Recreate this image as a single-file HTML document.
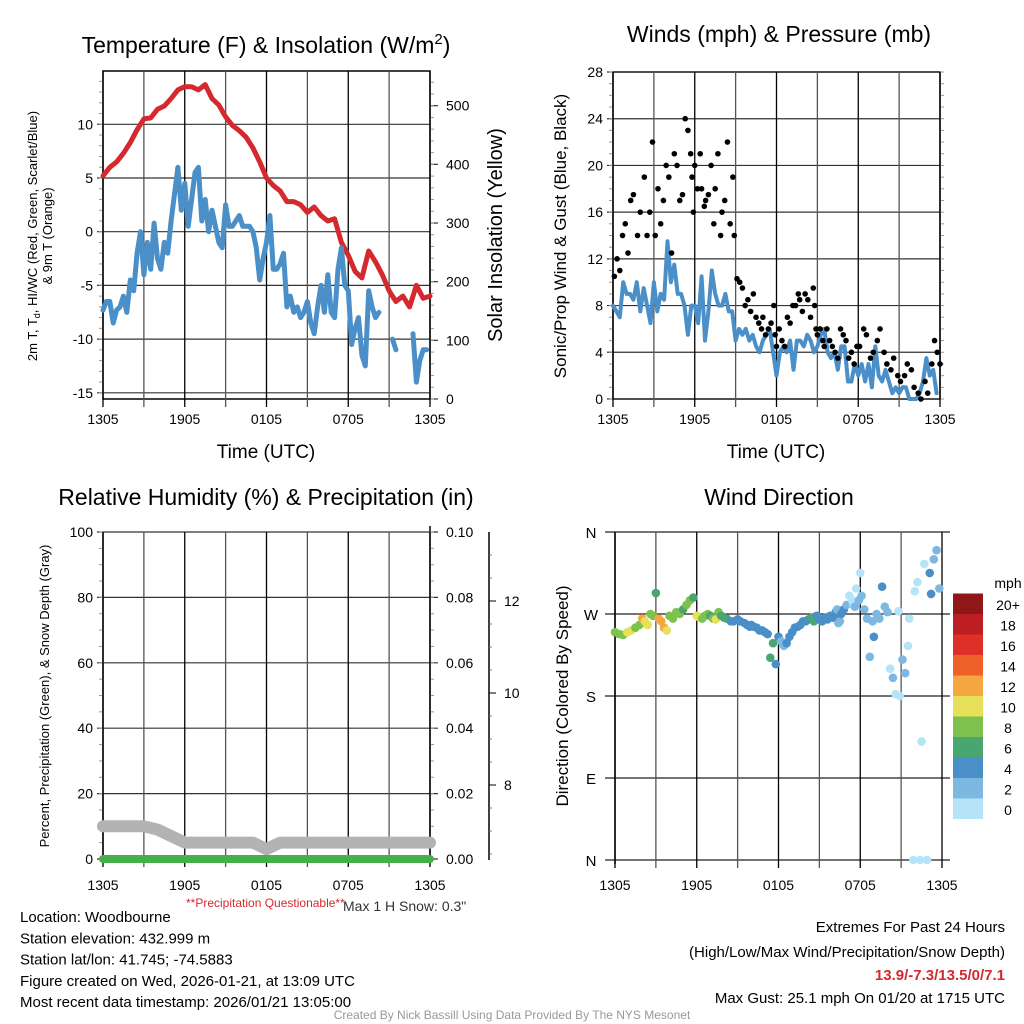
<!DOCTYPE html>
<html><head><meta charset="utf-8">
<style>
html,body{margin:0;padding:0;background:#fff;}
svg{display:block;font-family:"Liberation Sans",Arial,sans-serif;}
</style></head>
<body>
<svg id="chart" width="1024" height="1024" viewBox="0 0 1024 1024" xmlns="http://www.w3.org/2000/svg">
<rect width="1024" height="1024" fill="#fff"/>
<g id="g"></g>
</svg>
<script>
// ---------- DATA ----------
const timeLabels = ["1305","1905","0105","0705","1305"];
const tempF = [5.2,6,6.5,7.3,8.3,9.5,10.5,10.6,11.4,11.7,12.4,13.2,13.5,13.5,13.2,13.7,12.4,11.8,10.7,9.9,9.4,8.8,7.8,6.5,5.0,4.3,3.8,2.8,2.8,2.5,1.8,2.3,1.5,1.0,1.2,-1.0,-2.2,-3.7,-4.3,-1.8,-2.8,-4.0,-5.5,-6.5,-6.0,-7.0,-5.0,-6.2,-6.0];
const dewF = [-7.3,-6.5,-6.5,-8.5,-7.3,-7.0,-6.0,-7.5,-4.5,-5.5,-2.0,0.0,-4.0,-1.0,-3.5,0.8,-2.5,-3.5,-1.0,-2.0,1.0,3.5,6.0,2.0,4.5,0.5,3.0,5.5,6.0,1.0,3.0,0.0,2.0,0.5,-1.0,-1.5,2.5,0.5,0.5,1.0,1.5,0.5,0.5,0.5,0.0,-1.5,-4.5,-2.5,-1.0,1.5,-3.5,-3.5,-3.0,-2.0,-7.0,-6.0,-7.5,-7.0,-8.0,-7.5,-6.5,-8.5,-9.5,-7.0,-5.0,-7.5,-4.0,-7.5,-8.0,-3.5,-1.5,-5.0,-5.5,-10.5,-9.0,-8.0,-11.5,-12.5,-5.5,-7.0,-8.0,-7.5,null,null,null,-10.0,-11.0,null,null,null,null,-9.5,-14.0,-12.0,-11.0,-11.0,null];
const windMph = [8,7.5,7,10,9,9,8.5,10,7.5,9.5,8,6.5,10,7.5,9,8.5,13.5,10,11.5,9,9,8,5.5,8,8,6.5,10.5,5,7.5,11,9,8,8,9,7.5,7.5,5,6,5.5,6,5,5.5,4.5,4,5,5.5,6,4,2,4,4.5,4,5,2.5,5,5,4.5,5.5,5,4,4.5,5.5,6,4,3.5,4,2.5,4.5,4.5,1.5,1.5,3,2,3,1.5,3,1,4.5,2,1.5,2.5,1.5,0.5,1,0.5,1,1,0,0,0,0.5,1.5,3.5,2,2.5,0.5,null];
const gustHour = [0.1,0.3,0.5,0.7,0.9,1.1,1.3,1.5,1.8,2.0,2.3,2.5,2.7,2.9,3.1,3.3,3.5,3.7,3.9,4.1,4.3,4.5,4.7,4.9,5.1,5.3,5.5,5.7,5.8,5.9,6.0,6.2,6.4,6.5,6.7,6.8,7.0,7.2,7.4,7.5,7.7,7.9,8.0,8.2,8.4,8.6,8.8,8.9,9.1,9.3,9.5,9.7,9.9,10.1,10.3,10.5,10.7,10.9,11.0,11.2,11.4,11.6,11.8,11.9,12.0,12.2,12.4,12.6,12.8,13.0,13.2,13.4,13.6,13.7,13.9,14.1,14.3,14.5,14.7,14.8,14.9,15.0,15.2,15.4,15.5,15.7,15.9,16.1,16.3,16.5,16.7,16.9,17.1,17.3,17.5,17.7,17.9,18.1,18.4,18.6,18.9,19.1,19.4,19.6,19.9,20.1,20.4,20.6,20.9,21.1,21.4,21.6,21.9,22.1,22.4,22.6,22.9,23.1,23.4,23.6,23.8,24.0];
const gustMph = [10.5,12,11,14,15,12.5,17,17.5,14,16,19,14,16,22,14,18,15,17,20,19,12.5,21,20,17,17.5,24,23,21,19,16,20,18,21,18,16.5,17,17.5,20,15,18,21,14,16,17,22,15,19,14,10.3,10,9.5,8,8.5,7.5,9,7,6.5,6,7,5.5,6,6.5,8,5.5,4.5,6,5,4.5,7,6.5,8,8,9,8.5,7.5,9,8.5,7,9.5,8,6,5.5,6,5,4.5,6,5,4.5,4,3.5,6,5.5,5,3.5,4,3,4.5,4.5,6,5.5,3.5,4,5,6,4,3,2.5,3.5,2,1.5,2,3,2.5,1,0.5,0,1.5,0.5,3,5,4,3];
const dirHour = [0,0.3,0.6,0.9,1.2,1.5,1.8,2.0,2.2,2.4,2.6,2.8,3.0,3.2,3.4,3.6,3.8,4.0,4.25,4.5,4.75,5.0,5.25,5.5,5.75,6.0,6.2,6.4,6.6,6.8,7.0,7.2,7.4,7.6,7.8,8.0,8.2,8.5,8.7,9.0,9.2,9.5,9.7,9.9,10.0,10.2,10.4,10.6,10.8,11.0,11.2,11.4,11.6,11.8,12.0,12.2,12.4,12.6,12.8,13.0,13.2,13.4,13.6,13.8,14.0,14.2,14.4,14.6,14.8,15.0,15.2,15.4,15.6,15.8,16.0,16.1,16.2,16.3,16.4,16.5,16.6,16.8,17.0,17.2,17.4,17.5,17.6,17.7,17.9,18.0,18.1,18.3,18.5,18.7,18.9,19.0,19.2,19.4,19.6,19.8,20.0,20.2,20.4,20.6,20.8,20.9,21.1,21.3,21.5,21.6,21.9,22.0,22.2,22.4,22.5,22.7,22.9,23.1,23.2,23.4,23.6,23.8];
const dirDeg = [250,248,247,250,252,255,258,265,262,258,270,268,293,265,262,255,252,268,265,272,270,275,280,285,288,268,266,265,268,270,268,265,264,272,268,266,265,262,262,264,262,260,258,256,258,256,255,252,252,250,248,222,238,215,245,240,235,238,245,250,255,256,258,262,262,264,266,262,268,264,262,266,264,268,266,266,272,275,260,262,270,275,280,290,285,280,278,298,285,315,290,275,265,223,262,245,270,265,300,278,272,210,200,182,273,180,220,205,235,265,0,295,305,0,130,325,0,315,292,330,340,298];
const dirSpeed = [8,8,9,10,10,9,8,12,10,10,9,8,6,13,12,12,10,9,8,8,8,7,8,8,7,10,10,9,8,8,7,8,10,8,7,6,6,5,4,4,4,4,4,4,4,4,4,4,4,4,4,6,6,4,4,3,3,4,4,4,4,4,5,4,4,4,6,6,4,4,4,4,4,4,4,4,4,2,2,2,4,4,2,0,0,0,2,0,2,0,2,2,2,2,3,4,2,2,4,2,2,0,2,0,0,1,2,2,0,0,0,0,0,0,0,0,0,4,4,3,3,2];
const snowDepthPct = [10,10,10,10,9,7,5,5,5,5,5,5,3,5,5,5,5,5,5,5,5,5,5,5,5];
const precipIn = [0,0,0,0,0,0,0,0,0,0,0,0,0,0,0,0,0,0,0,0,0,0,0,0,0];
const tempTicks = [-15,-10,-5,0,5,10];
const solarTicks = [0,100,200,300,400,500];
const windTicks = [0,4,8,12,16,20,24,28];
const rhTicks = [0,20,40,60,80,100];
const precipTicks = ["0.00","0.02","0.04","0.06","0.08","0.10"];
const dirLabels = ["N","E","S","W","N"];
const barLabels = ["0","2","4","6","8","10","12","14","16","18","20+"];
const barColors = ["#b5e3f7","#7db8e2","#4a8fc7","#4aa670","#7cc24c","#e6e05a","#f5a742","#ef6129","#dd3127","#bc1e24","#8f1719"];

// ---------- HELPERS ----------
const NS="http://www.w3.org/2000/svg";
const root=document.getElementById('g');
function el(tag,attrs,parent,text){const e=document.createElementNS(NS,tag);for(const k in attrs)e.setAttribute(k,attrs[k]);if(text!==undefined)e.textContent=text;(parent||root).appendChild(e);return e;}
function lin(d0,d1,r0,r1){return v=>r0+(v-d0)*(r1-r0)/(d1-d0);}
function grp(name){const g=el('g',{});return g;}

function timeAxis(g,x0,x1,yb,ytop,labY){
  const xs=lin(0,24,x0,x1);
  for(let h=0;h<=24;h+=3){
    const l=el('line',{x1:xs(h),x2:xs(h),y1:ytop-12,y2:yb+8,stroke:(h%6==0)?'#000':'#555','stroke-width':1.3},g);
    
    
  }
  timeLabels.forEach((t,i)=>{const tx=el('text',{x:xs(i*6),y:labY,'font-size':14,'text-anchor':'middle'},g,t);
    
    });
  return xs;
}
function lineSeries(g,xs,ys,vals,color,w,name){
  let d='',pen=false;const n=vals.length;
  vals.forEach((v,i)=>{if(v===null){pen=false;return;}const x=xs(i*24/(n-1)),y=ys(v);d+=(pen?'L':'M')+x.toFixed(1)+','+y.toFixed(1);pen=true;});
  const p=el('path',{d:d,fill:'none',stroke:color,'stroke-width':w,'stroke-linejoin':'round','stroke-linecap':'round'},g);
  
  
}

// ---------- PANEL 1: Temperature ----------
(function(){
  const g=grp('temperature-panel');
  const X0=103,X1=430,YT=71,YB=399;
  const ys=lin(0,10,231.7,124.3), ss=lin(0,500,399,105.7);
  el('rect',{x:X0,y:YT,width:X1-X0,height:YB-YT,fill:'none',stroke:'#000','stroke-width':1.5},g);
  tempTicks.forEach(t=>{const y=ys(t);el('line',{x1:X0-6,x2:X1,y1:y,y2:y,stroke:'#333','stroke-width':1.2},g);
    const tx=el('text',{x:X0-10,y:y+5,'font-size':14,'text-anchor':'end'},g,String(t));
    
    });
  for(let t=-15;t<=14;t++){const y=ys(t);if(y<YT||y>YB)continue;el('line',{x1:X0-4,x2:X0,y1:y,y2:y,stroke:'#999'},g);}
  solarTicks.forEach(t=>{const y=ss(t);el('line',{x1:X1,x2:X1+8,y1:y,y2:y,stroke:'#333','stroke-width':1.2},g);
    const tx=el('text',{x:X1+16,y:y+5,'font-size':14},g,String(t));
    
    });
  for(let t=0;t<=550;t+=20){el('line',{x1:X1,x2:X1+4,y1:ss(t),y2:ss(t),stroke:'#999'},g);}
  const xs=timeAxis(g,X0,X1,YB,YT+12,424);
  lineSeries(g,xs,ys,tempF,'#d42a2f',5,'temperature-line');
  lineSeries(g,xs,ys,dewF,'#4a8fc7',5,'dewpoint-line');
  const t=el('text',{x:266,y:53,'font-size':23,'text-anchor':'middle'},g);
  
  
  t.innerHTML='Temperature (F) &amp; Insolation (W/m<tspan dy="-9" font-size="15">2</tspan><tspan dy="9">)</tspan>';
  const xl=el('text',{x:266,y:458,'font-size':19,'text-anchor':'middle'},g,'Time (UTC)');
  
  
  const yl=el('text',{transform:'translate(37,236) rotate(-90)','font-size':13,'text-anchor':'middle'},g);
  
  
  yl.innerHTML='2m T, T<tspan dy="3" font-size="9">d</tspan><tspan dy="-3">, HI/WC (Red, Green, Scarlet/Blue)</tspan>';
  el('text',{transform:'translate(52,236) rotate(-90)','font-size':13,'text-anchor':'middle'},g,'& 9m T (Orange)');
  const y2=el('text',{transform:'translate(502,235) rotate(-90)','font-size':20,'text-anchor':'middle'},g,'Solar Insolation (Yellow)');
  
  
})();

// ---------- PANEL 2: Winds ----------
(function(){
  const g=grp('winds-panel');
  const X0=613,X1=940,YT=72,YB=399;
  const ys=lin(0,28,399,72);
  el('rect',{x:X0,y:YT,width:X1-X0,height:YB-YT,fill:'none',stroke:'#000','stroke-width':1.5},g);
  windTicks.forEach(t=>{const y=ys(t);el('line',{x1:X0-6,x2:X1,y1:y,y2:y,stroke:'#333','stroke-width':1.2},g);
    const tx=el('text',{x:X0-10,y:y+5,'font-size':14,'text-anchor':'end'},g,String(t));
    
    });
  for(let t=0;t<=28;t++){el('line',{x1:X0-4,x2:X0,y1:ys(t),y2:ys(t),stroke:'#999'},g);el('line',{x1:X1,x2:X1+4,y1:ys(t),y2:ys(t),stroke:'#999'},g);}
  const xs=timeAxis(g,X0,X1,YB,YT+12,424);
  lineSeries(g,xs,ys,windMph,'#4a8fc7',4,'wind-speed-line');
  gustMph.forEach((v,i)=>{const c=el('circle',{cx:xs(gustHour[i]),cy:ys(v),r:2.8,fill:'#000'},g);
    
    });
  const t=el('text',{x:779,y:42,'font-size':23,'text-anchor':'middle'},g,'Winds (mph) & Pressure (mb)');
  
  
  const xl=el('text',{x:776,y:458,'font-size':19,'text-anchor':'middle'},g,'Time (UTC)');
  
  
  const yl=el('text',{transform:'translate(566,236) rotate(-90)','font-size':17,'text-anchor':'middle'},g,'Sonic/Prop Wind & Gust (Blue, Black)');
  
  
})();

// ---------- PANEL 3: RH ----------
(function(){
  const g=grp('humidity-panel');
  const X0=103,X1=430,YT=532,YB=859;
  const ys=lin(0,100,859,532), ps=lin(0,0.10,859,532);
  el('line',{x1:X0,x2:X0,y1:YT,y2:YB,stroke:'#000','stroke-width':1.5},g);
  el('line',{x1:X1,x2:X1,y1:YT-6,y2:YB+4,stroke:'#000','stroke-width':1.5},g);
  rhTicks.forEach(t=>{const y=ys(t);el('line',{x1:X0-6,x2:X1+8,y1:y,y2:y,stroke:'#333','stroke-width':1.2},g);
    const tx=el('text',{x:X0-10,y:y+5,'font-size':14,'text-anchor':'end'},g,String(t));
    
    });
  precipTicks.forEach(t=>{const y=ps(+t);
    const tx=el('text',{x:X1+16,y:y+5,'font-size':14},g,t);
    
    });
  for(let t=0;t<=100;t+=5){el('line',{x1:X1,x2:X1+4,y1:ys(t),y2:ys(t),stroke:'#999'},g);el('line',{x1:X0-4,x2:X0,y1:ys(t),y2:ys(t),stroke:'#999'},g);}
  const xs=timeAxis(g,X0,X1,YB,YT+12,890);
  lineSeries(g,xs,ys,snowDepthPct,'#b3b3b3',12,'snow-depth-line');
  lineSeries(g,xs,ps,precipIn,'#43b04a',8,'precipitation-line');
  const sy=lin(8,12,785,601);
  el('line',{x1:489,x2:489,y1:532,y2:860,stroke:'#000','stroke-width':1.5},g);
  for(let v=6.5;v<=14.5;v+=0.5){const y=sy(v);if(y<533||y>859)continue;el('line',{x1:489,x2:492,y1:y,y2:y,stroke:'#777'},g);}
  [8,10,12].forEach(v=>{const y=sy(v);el('line',{x1:489,x2:496,y1:y,y2:y,stroke:'#000'},g);
    const tx=el('text',{x:504,y:y+5,'font-size':14},g,String(v));
    
    });
  const t=el('text',{x:266,y:505,'font-size':23,'text-anchor':'middle'},g,'Relative Humidity (%) & Precipitation (in)');
  
  
  const yl=el('text',{transform:'translate(49,696) rotate(-90)','font-size':13,'text-anchor':'middle'},g,'Percent, Precipitation (Green), & Snow Depth (Gray)');
  
  
  const q=el('text',{x:186,y:907,'font-size':12,fill:'#d42a2f'},g,'**Precipitation Questionable**');
  
  
  const s=el('text',{x:343,y:911,'font-size':14,fill:'#333'},g,'Max 1 H Snow: 0.3"');
  
  
})();

// ---------- PANEL 4: Wind Direction ----------
(function(){
  const g=grp('wind-direction-panel');
  const X0=615,X1=942,YT=532,YB=860;
  const ys=lin(0,360,860,532);
  el('line',{x1:X0,x2:X0,y1:YT,y2:YB+4,stroke:'#000','stroke-width':1.5},g);
  dirLabels.forEach((l,i)=>{const y=ys(i*90);el('line',{x1:X0-10,x2:X1+8,y1:y,y2:y,stroke:'#222','stroke-width':1.3},g);
    const tx=el('text',{x:591,y:y+6,'font-size':15,'text-anchor':'middle'},g,l);
    
    });
  const xs=timeAxis(g,X0,X1,YB,YT+12,890);
  dirDeg.forEach((d,i)=>{const b=Math.min(10,Math.floor(dirSpeed[i]/2));
    const c=el('circle',{cx:xs(dirHour[i]),cy:ys(d),r:4.3,fill:barColors[b]},g);
    
    });
  const t=el('text',{x:779,y:505,'font-size':23,'text-anchor':'middle'},g,'Wind Direction');
  
  
  const yl=el('text',{transform:'translate(568,696) rotate(-90)','font-size':17,'text-anchor':'middle'},g,'Direction (Colored By Speed)');
  
  
  const cb=grp('speed-colorbar');
  const h=20.5;
  barColors.forEach((c,i)=>{const r=el('rect',{x:953,y:819-(i+1)*h,width:30,height:h,fill:c},cb);
    
    });
  barLabels.forEach((l,i)=>{const tx=el('text',{x:1008,y:819-i*h-4,'font-size':14,'text-anchor':'middle'},cb,l);
    
    });
  el('text',{x:1008,y:588,'font-size':14,'text-anchor':'middle'},cb,'mph');
})();

// ---------- FOOTER ----------
(function(){
  const g=grp('footer-info');
  const lines=["Location: Woodbourne","Station elevation: 432.999 m","Station lat/lon: 41.745; -74.5883","Figure created on Wed, 2026-01-21, at 13:09 UTC","Most recent data timestamp: 2026/01/21 13:05:00"];
  lines.forEach((l,i)=>el('text',{x:20,y:922+i*21.3,'font-size':15},g,l));
  el('text',{x:1005,y:932,'font-size':15,'text-anchor':'end'},g,'Extremes For Past 24 Hours');
  el('text',{x:1005,y:957,'font-size':15,'text-anchor':'end'},g,'(High/Low/Max Wind/Precipitation/Snow Depth)');
  el('text',{x:1005,y:980,'font-size':15,'text-anchor':'end',fill:'#d42a2f','font-weight':'bold'},g,'13.9/-7.3/13.5/0/7.1');
  el('text',{x:1005,y:1003,'font-size':15,'text-anchor':'end'},g,'Max Gust: 25.1 mph On 01/20 at 1715 UTC');
  el('text',{x:512,y:1019,'font-size':12,'text-anchor':'middle',fill:'#999'},g,'Created By Nick Bassill Using Data Provided By The NYS Mesonet');
})();
</script>
</body></html>
